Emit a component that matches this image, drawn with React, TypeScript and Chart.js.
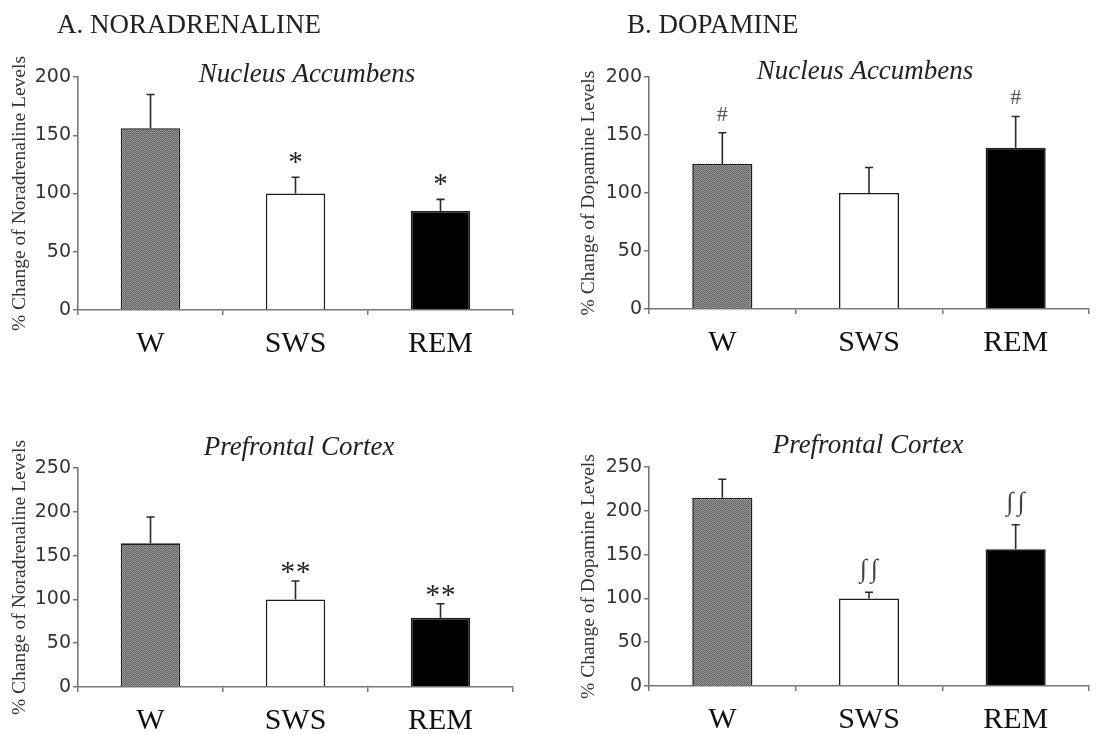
import React, { useEffect, useRef } from "react";
import { Chart, registerables } from "chart.js";

Chart.register(...registerables);

// ---- data ----
const categories = ["W", "SWS", "REM"];

const naAccumbensMean = [156, 100, 85];
const naAccumbensSem = [29, 14, 10];
const naAccumbensSig = ["", "*", "*"];

const naPrefrontalMean = [164, 100, 79];
const naPrefrontalSem = [30, 21, 16];
const naPrefrontalSig = ["", "**", "**"];

const daAccumbensMean = [125, 100, 139];
const daAccumbensSem = [27, 22, 27];
const daAccumbensSig = ["#", "", "#"];

const daPrefrontalMean = [215, 100, 156];
const daPrefrontalSem = [21, 7, 28];
const daPrefrontalSig = ["", "∫∫", "∫∫"];

const accumbensMax = 200;
const prefrontalMax = 250;
const tickStep = 50;

const headingA = "A. NORADRENALINE";
const headingB = "B. DOPAMINE";
const titleAccumbens = "Nucleus Accumbens";
const titlePrefrontal = "Prefrontal Cortex";
const yLabelNA = "% Change of Noradrenaline Levels";
const yLabelDA = "% Change of Dopamine Levels";

const SERIF = '"Liberation Serif", "Times New Roman", serif';
const SANS = '"DejaVu Sans", Arial, sans-serif';

function makePattern(): CanvasPattern | string {
  const c = document.createElement("canvas");
  c.width = 2;
  c.height = 2;
  const g = c.getContext("2d");
  if (!g) return "#7a7a7a";
  g.fillStyle = "#646464";
  g.fillRect(0, 0, 2, 2);
  g.fillStyle = "#969696";
  g.fillRect(0, 0, 1, 1);
  g.fillRect(1, 1, 1, 1);
  const p = g.createPattern(c, "repeat");
  return p || "#7a7a7a";
}

type PanelProps = {
  left: number;
  top: number;
  width: number;
  height: number;
  area: { left: number; right: number; top: number; bottom: number };
  mean: number[];
  sem: number[];
  sig: string[];
  max: number;
  yLabel: string;
  yLabelPad: number;
  title: string;
  titleX: number;
  titleY: number;
  heading?: string;
  headingX?: number;
  headingY?: number;
  sigFont: string;
  sigColor: string;
  sigGap: number;
  sigSpacing: number;
};

function Panel(p: PanelProps) {
  const ref = useRef<HTMLCanvasElement | null>(null);
  useEffect(() => {
    const canvas = ref.current;
    if (!canvas) return;
    const pattern = makePattern();
    const annot = {
      id: "annot",
      afterDatasetsDraw(chart: any) {
        const ctx = chart.ctx as CanvasRenderingContext2D;
        const meta = chart.getDatasetMeta(0);
        const ys = chart.scales.y;
        meta.data.forEach((bar: any, i: number) => {
          const base = ys.getPixelForValue(p.mean[i]);
          const top = ys.getPixelForValue(p.mean[i] + p.sem[i]);
          ctx.save();
          ctx.strokeStyle = "#2a2a2a";
          ctx.lineWidth = 1.6;
          ctx.beginPath();
          ctx.moveTo(bar.x, base);
          ctx.lineTo(bar.x, top);
          ctx.moveTo(bar.x - 4, top);
          ctx.lineTo(bar.x + 4, top);
          ctx.stroke();
          const s = p.sig[i];
          if (s) {
            ctx.font = p.sigFont;
            ctx.fillStyle = p.sigColor;
            ctx.textAlign = "center";
            ctx.textBaseline = "alphabetic";
            (ctx as any).letterSpacing = `${p.sigSpacing}px`;
            const m = ctx.measureText(s);
            ctx.fillText(
              s,
              bar.x + p.sigSpacing / 2,
              top - p.sigGap - m.actualBoundingBoxDescent
            );
          }
          ctx.restore();
        });
        ctx.save();
        ctx.fillStyle = "#222";
        ctx.textBaseline = "alphabetic";
        ctx.textAlign = "center";
        ctx.font = `italic 27px ${SERIF}`;
        ctx.fillText(p.title, p.titleX, p.titleY);
        if (p.heading) {
          ctx.textAlign = "left";
          ctx.font = `27px ${SERIF}`;
          ctx.fillText(p.heading, p.headingX || 0, p.headingY || 0);
        }
        ctx.restore();
      },
    };
    const chart = new Chart(canvas, {
      type: "bar",
      data: {
        labels: categories,
        datasets: [
          {
            data: p.mean,
            backgroundColor: [pattern, "#ffffff", "#000000"] as any,
            borderColor: "#1e1e1e",
            borderWidth: 1.6,
            barPercentage: 0.41,
            categoryPercentage: 1.0,
          },
        ],
      },
      options: {
        animation: false,
        responsive: false,
        devicePixelRatio: 1,
        layout: {
          padding: {
            top: p.area.top,
            right: p.width - p.area.right,
            left: 0,
            bottom: 0,
          },
        },
        plugins: {
          legend: { display: false },
          tooltip: { enabled: false },
          title: { display: false },
        },
        scales: {
          x: {
            type: "category",
            offset: true,
            grid: {
              offset: true,
              drawOnChartArea: false,
              drawTicks: true,
              tickLength: 5,
              color: "#777",
              lineWidth: 1.5,
            },
            border: { color: "#777", width: 1.6 },
            ticks: {
              font: { family: SERIF, size: 30 },
              color: "#111",
              padding: 11,
              maxRotation: 0,
              autoSkip: false,
            },
            afterFit: (s: any) => {
              s.height = p.height - p.area.bottom;
            },
          },
          y: {
            min: 0,
            max: p.max,
            ticks: {
              stepSize: tickStep,
              font: { family: SANS, size: 19 },
              color: "#333",
              padding: 2,
            },
            grid: {
              drawOnChartArea: false,
              drawTicks: true,
              tickLength: 5,
              color: "#777",
              lineWidth: 1.5,
            },
            border: { color: "#777", width: 1.6 },
            title: {
              display: true,
              text: p.yLabel,
              font: { family: SERIF, size: 19.5 },
              color: "#333",
              padding: { top: p.yLabelPad, bottom: 0 },
            },
            afterFit: (s: any) => {
              s.width = p.area.left;
            },
          },
        },
      } as any,
      plugins: [annot],
    });
    return () => chart.destroy();
  }, []);
  return (
    <canvas
      ref={ref}
      width={p.width}
      height={p.height}
      style={{
        position: "absolute",
        left: p.left,
        top: p.top,
        width: p.width,
        height: p.height,
      }}
    />
  );
}

export default function App() {
  useEffect(() => {
    document.body.style.margin = "0";
    document.body.style.background = "#fff";
  }, []);
  return (
    <div
      style={{
        position: "relative",
        width: 1110,
        height: 734,
        background: "#fff",
        overflow: "hidden",
      }}
    >
      <Panel
        left={0}
        top={0}
        width={555}
        height={370}
        area={{ left: 78, right: 513, top: 77, bottom: 310 }}
        mean={naAccumbensMean}
        sem={naAccumbensSem}
        sig={naAccumbensSig}
        max={accumbensMax}
        yLabel={yLabelNA}
        yLabelPad={8}
        title={titleAccumbens}
        titleX={307}
        titleY={82}
        heading={headingA}
        headingX={57}
        headingY={33}
        sigFont={`29px ${SERIF}`}
        sigColor="#222"
        sigGap={14}
        sigSpacing={0}
      />
      <Panel
        left={555}
        top={0}
        width={555}
        height={370}
        area={{ left: 94, right: 534, top: 77, bottom: 309 }}
        mean={daAccumbensMean}
        sem={daAccumbensSem}
        sig={daAccumbensSig}
        max={accumbensMax}
        yLabel={yLabelDA}
        yLabelPad={22}
        title={titleAccumbens}
        titleX={310}
        titleY={79}
        heading={headingB}
        headingX={72}
        headingY={33}
        sigFont={`22px ${SERIF}`}
        sigColor="#555"
        sigGap={12}
        sigSpacing={0}
      />
      <Panel
        left={0}
        top={370}
        width={555}
        height={364}
        area={{ left: 78, right: 513, top: 98, bottom: 317 }}
        mean={naPrefrontalMean}
        sem={naPrefrontalSem}
        sig={naPrefrontalSig}
        max={prefrontalMax}
        yLabel={yLabelNA}
        yLabelPad={8}
        title={titlePrefrontal}
        titleX={299}
        titleY={85}
        sigFont={`29px ${SERIF}`}
        sigColor="#222"
        sigGap={8}
        sigSpacing={1}
      />
      <Panel
        left={555}
        top={370}
        width={555}
        height={364}
        area={{ left: 94, right: 534, top: 97, bottom: 316 }}
        mean={daPrefrontalMean}
        sem={daPrefrontalSem}
        sig={daPrefrontalSig}
        max={prefrontalMax}
        yLabel={yLabelDA}
        yLabelPad={22}
        title={titlePrefrontal}
        titleX={313}
        titleY={83}
        sigFont={`26px ${SERIF}`}
        sigColor="#444"
        sigGap={8}
        sigSpacing={4}
      />
    </div>
  );
}
